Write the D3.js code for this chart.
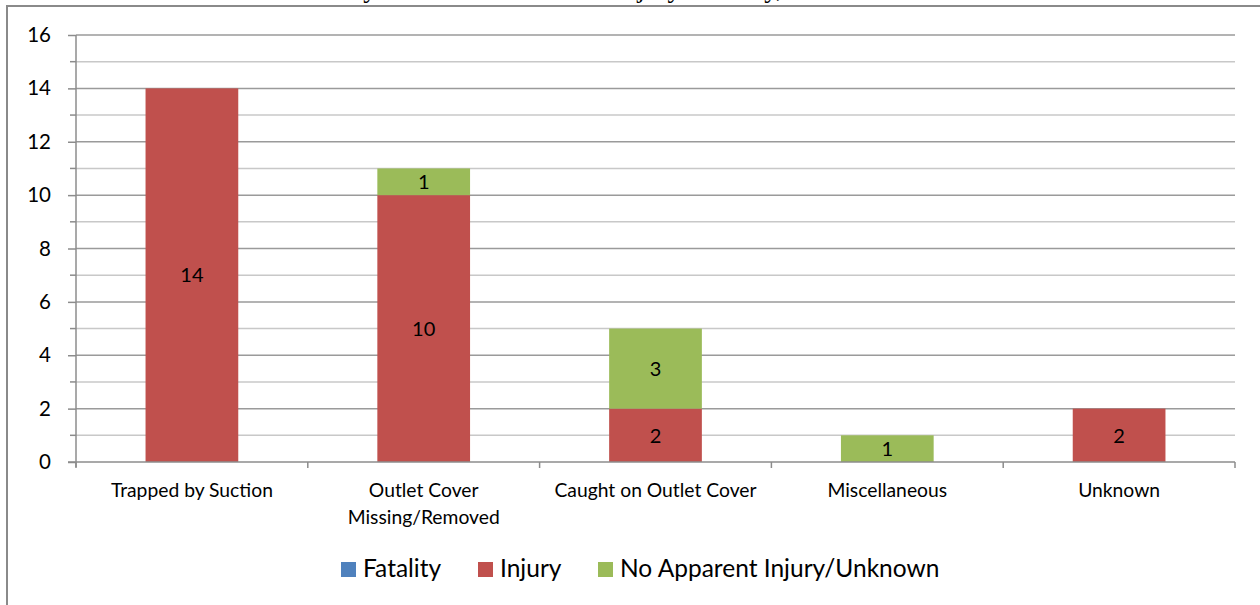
<!DOCTYPE html>
<html lang="en">
<head>
<meta charset="UTF-8">
<title>Entrapment incidents by hazard and injury</title>
<script src="https://cdnjs.cloudflare.com/ajax/libs/d3/7.8.5/d3.min.js"></script>
<style>
  body { margin: 0; background: #fff; }
  svg { display: block; font-family: Lato, "Open Sans", sans-serif; }
  .grid-major { stroke: #9a9a9a; stroke-width: 1.5px; }
  .grid-minor { stroke: #c8c8c8; stroke-width: 1.5px; }
  .axis line, .axis path { stroke: #8c8c8c; stroke-width: 1.5px; }
</style>
</head>
<body>
<div id="chart"></div>
<script>
// Data
const categories = ["Trapped by Suction", "Outlet Cover Missing/Removed", "Caught on Outlet Cover", "Miscellaneous", "Unknown"];
const fatality = [0, 0, 0, 0, 0];
const injury = [14, 10, 2, 0, 2];
const noInjury = [0, 1, 3, 1, 0];
const seriesNames = ["Fatality", "Injury", "No Apparent Injury/Unknown"];
const seriesColors = ["#4F81BD", "#C0504D", "#9BBB59"];
const yTicks = [0, 2, 4, 6, 8, 10, 12, 14, 16];

const width = 1260, height = 605;
const margin = { left: 76, right: 25, top: 35, bottom: 143 };
const plotBottom = 462;

const svg = d3.select("#chart").append("svg")
  .attr("width", width).attr("height", height);

// title, mostly cut off above the frame
svg.append("text")
  .attr("x", 244).attr("y", -3)
  .style("font-family", "'Liberation Serif', serif")
  .style("font-size", "27px")
  .text("Incidents by Hazard Scenario and Injury Severity, 2010\u20132014");

// frame
svg.append("rect")
  .attr("x", 7).attr("y", 6)
  .attr("width", 1270).attr("height", 620)
  .attr("fill", "none").attr("stroke", "#8a8a8a").attr("stroke-width", 2);

const xOuter = d3.scaleBand()
  .domain(categories)
  .range([margin.left, width - margin.right]);
const barW = xOuter.bandwidth() * 0.4;
const barX = c => xOuter(c) + (xOuter.bandwidth() - barW) / 2;
const midX = c => xOuter(c) + xOuter.bandwidth() / 2;

const y = d3.scaleLinear()
  .domain([0, 16])
  .range([plotBottom, margin.top]);

// gridlines
const minor = d3.range(1, 16, 2);
svg.append("g").selectAll("line").data(minor).join("line")
  .attr("class", "grid-minor")
  .attr("x1", margin.left).attr("x2", width - margin.right)
  .attr("y1", d => y(d)).attr("y2", d => y(d));
svg.append("g").selectAll("line").data(yTicks.filter(d => d > 0)).join("line")
  .attr("class", "grid-major")
  .attr("x1", margin.left).attr("x2", width - margin.right)
  .attr("y1", d => y(d)).attr("y2", d => y(d));

// stacked bars
const rows = categories.map((c, i) => ({ cat: c, Fatality: fatality[i], Injury: injury[i], "No Apparent Injury/Unknown": noInjury[i] }));
const stack = d3.stack().keys(seriesNames)(rows);

const layer = svg.append("g").selectAll("g").data(stack).join("g")
  .attr("fill", (d, i) => seriesColors[i]);

layer.selectAll("rect").data(d => d).join("rect")
  .attr("x", d => barX(d.data.cat))
  .attr("width", barW)
  .attr("y", d => y(d[1]))
  .attr("height", d => y(d[0]) - y(d[1]));

layer.selectAll("text").data(d => d.filter(v => v[1] - v[0] > 0)).join("text")
  .attr("x", d => midX(d.data.cat))
  .attr("y", d => (y(d[0]) + y(d[1])) / 2)
  .attr("dy", "0.36em")
  .attr("text-anchor", "middle")
  .attr("fill", "#000")
  .style("font-size", "20px")
  .text(d => d[1] - d[0]);

// y axis
const yAxis = svg.append("g").attr("class", "axis")
  .attr("transform", `translate(${margin.left},0)`)
  .call(d3.axisLeft(y).tickValues(yTicks).tickSize(8).tickPadding(17));
yAxis.select(".domain").attr("d", `M0,${y(16)}V${y(0) + 5}`);
yAxis.selectAll("text").style("font-size", "20.5px").attr("fill", "#000").style("font-family", "Lato, sans-serif");
svg.append("g").attr("class", "axis").selectAll("line").data(minor).join("line")
  .attr("x1", margin.left - 6).attr("x2", margin.left)
  .attr("y1", d => y(d)).attr("y2", d => y(d));

// x axis
const xa = svg.append("g").attr("class", "axis");
xa.append("line")
  .attr("x1", margin.left - 8).attr("x2", width - margin.right)
  .attr("y1", y(0)).attr("y2", y(0));
const bounds = categories.map(c => xOuter(c)).concat([xOuter(categories[categories.length - 1]) + xOuter.bandwidth()]);
xa.selectAll(".tk").data(bounds).join("line").attr("class", "tk")
  .attr("x1", d => d).attr("x2", d => d)
  .attr("y1", y(0)).attr("y2", y(0) + 6);

const labels = {
  "Outlet Cover Missing/Removed": ["Outlet Cover", "Missing/Removed"]
};
const xl = svg.append("g").selectAll("text").data(categories).join("text")
  .attr("x", d => midX(d))
  .attr("y", y(0) + 35)
  .attr("text-anchor", "middle")
  .style("font-size", "19.3px")
  .attr("fill", "#000");
xl.each(function(d) {
  const parts = labels[d] || [d];
  d3.select(this).selectAll("tspan").data(parts).join("tspan")
    .attr("x", midX(d))
    .attr("dy", (p, i) => i === 0 ? 0 : 27)
    .text(p => p);
});

// legend
const legendX = [341, 478, 598];
const lg = svg.append("g").selectAll("g").data(seriesNames).join("g")
  .attr("transform", (d, i) => `translate(${legendX[i]},562)`);
lg.append("rect").attr("width", 15).attr("height", 15)
  .attr("fill", (d, i) => seriesColors[i]);
lg.append("text").attr("x", 22).attr("y", 15)
  .style("font-size", "24.5px").attr("fill", "#000")
  .text(d => d);
</script>
</body>
</html>
